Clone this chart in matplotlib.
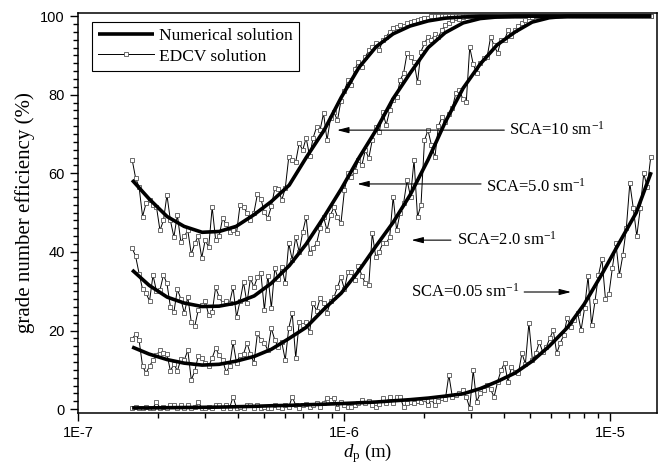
import numpy as np
import matplotlib
matplotlib.use('Agg')
matplotlib.rcParams['font.family'] = 'serif'
matplotlib.rcParams['font.serif'] = ['Liberation Serif', 'DejaVu Serif']
matplotlib.rcParams['font.sans-serif'] = ['Liberation Sans', 'DejaVu Sans']
matplotlib.rcParams['mathtext.fontset'] = 'custom'
matplotlib.rcParams['mathtext.rm'] = 'Liberation Serif'
matplotlib.rcParams['mathtext.it'] = 'Liberation Serif:italic'
import matplotlib.pyplot as plt
from matplotlib.ticker import FixedLocator, MultipleLocator, FuncFormatter, NullFormatter

# numerical (smooth) solutions, particle diameter in m
dp_num = [1.596e-7, 1.849e-7, 2.161e-7, 2.503e-7, 2.924e-7, 3.388e-7, 3.925e-7,
          4.589e-7, 5.318e-7, 6.216e-7, 7.198e-7, 8.413e-7, 9.746e-7, 1.138e-6,
          1.318e-6, 1.527e-6, 1.770e-6, 2.069e-6, 2.397e-6, 2.802e-6, 3.245e-6,
          3.759e-6, 4.394e-6, 5.091e-6, 5.898e-6, 6.894e-6, 7.986e-6, 9.334e-6,
          1.081e-5, 1.253e-5, 1.426e-5]
num_10 = [58.3, 53.5, 49.0, 46.5, 45.0, 45.2, 46.5, 49.5, 52.8, 57.0, 64.0, 71.0,
          79.3, 87.0, 92.2, 95.5, 97.5, 98.8, 99.5, 99.8, 100, 100, 100, 100, 100,
          100, 100, 100, 100, 100, 100]
num_5 = [35.4, 31.5, 28.5, 27.0, 26.1, 26.2, 27.0, 28.8, 32.0, 36.5, 42.0, 49.0,
         56.0, 64.0, 71.0, 79.0, 85.5, 92.0, 95.8, 98.3, 99.4, 99.8, 100, 100, 100,
         100, 100, 100, 100, 100, 100]
num_2 = [15.8, 14.0, 12.6, 11.7, 11.2, 11.4, 12.2, 13.4, 15.2, 18.0, 20.8, 25.5,
         29.5, 35.3, 41.5, 47.5, 54.5, 63.5, 73.0, 81.7, 87.8, 92.7, 96.0, 98.5,
         99.6, 100, 100, 100, 100, 100, 100]
num_005 = [0.3, 0.3, 0.35, 0.4, 0.45, 0.5, 0.6, 0.7, 0.85, 0.95, 1.1, 1.25, 1.4,
           1.6, 1.8, 2.1, 2.4, 2.8, 3.3, 3.9, 5.2, 7.0, 9.2, 12.2, 16.0, 20.7,
           26.7, 34.5, 42.3, 50.0, 60.3]

# EDCV solution, 150 sizes evenly spaced in log(dp)
dp_min, dp_max, n_edcv = 1.596e-7, 1.42e-5, 150
edcv_10 = [63.5, 58.8, 56.5, 49.0, 52.4, 53.2, 52.0, 51.4, 45.5, 48.0,
           54.5, 48.0, 43.8, 49.4, 42.5, 44.0, 45.5, 39.4, 42.2, 44.0,
           38.5, 43.0, 41.2, 51.4, 43.0, 44.0, 48.6, 47.0, 45.0, 45.5,
           44.8, 51.9, 51.5, 50.0, 48.1, 50.0, 54.7, 53.5, 50.1, 48.6,
           51.6, 56.2, 56.0, 53.2, 56.2, 64.1, 63.5, 62.9, 67.7, 65.9,
           69.0, 64.4, 69.0, 71.8, 71.0, 75.3, 68.4, 74.0, 75.5, 73.5,
           78.5, 81.0, 83.7, 82.5, 86.5, 88.3, 87.0, 89.6, 91.3, 92.1,
           93.1, 91.3, 93.9, 94.8, 96.0, 96.9, 97.2, 97.7, 97.5, 98.2,
           98.5, 98.8, 99.0, 99.2, 99.5, 99.6] + [100.0] * 64
edcv_5 = [41.0, 38.9, 34.5, 30.5, 29.5, 27.5, 34.1, 30.0, 30.3, 34.1,
          32.0, 26.0, 24.7, 30.5, 28.0, 24.4, 28.5, 22.1, 21.1, 25.2,
          26.5, 27.5, 23.9, 24.7, 31.0, 28.5, 27.0, 27.5, 27.0, 31.0,
          23.4, 27.5, 32.3, 27.0, 33.3, 31.0, 33.6, 34.6, 25.2, 34.0,
          25.7, 35.9, 33.0, 36.1, 32.0, 42.2, 38.0, 43.8, 40.0, 45.0,
          48.9, 39.7, 41.0, 42.2, 46.0, 48.9, 45.5, 49.4, 51.4, 48.9,
          47.3, 55.7, 60.0, 59.0, 60.5, 63.4, 62.0, 65.9, 63.9, 68.5,
          71.8, 70.5, 75.6, 72.3, 76.0, 78.6, 79.4, 83.7, 85.5, 90.6,
          89.5, 88.3, 83.2, 91.0, 93.1, 94.7, 93.9, 95.5, 94.7, 96.5,
          97.7, 98.3, 99.0, 99.5, 99.3, 99.8] + [100.0] * 54
edcv_2 = [17.8, 19.1, 17.5, 10.9, 9.2, 10.9, 12.5, 13.7, 15.0, 14.3,
          14.0, 9.7, 11.5, 9.7, 12.7, 12.5, 15.0, 7.4, 9.7, 13.5,
          13.0, 11.7, 10.9, 13.0, 15.5, 13.7, 12.5, 9.4, 10.9, 17.0,
          11.7, 13.7, 14.0, 16.8, 14.0, 11.7, 19.3, 17.5, 16.8, 15.0,
          20.6, 17.5, 15.8, 17.0, 12.5, 20.6, 24.4, 13.0, 22.1, 21.5,
          22.1, 19.5, 27.0, 25.0, 28.2, 27.0, 24.4, 27.5, 28.5, 31.0,
          33.6, 30.5, 34.9, 34.9, 32.8, 36.5, 34.0, 32.0, 31.6, 44.8,
          38.7, 40.0, 42.2, 42.2, 43.8, 54.0, 45.5, 50.0, 52.4, 58.3,
          54.0, 63.4, 48.9, 52.0, 68.4, 71.0, 67.2, 64.1, 72.0, 74.3,
          73.0, 75.0, 76.6, 80.4, 81.2, 79.0, 78.1, 92.1, 87.8, 85.5,
          88.0, 89.3, 89.6, 94.7, 92.6, 90.6, 93.9, 93.9, 96.4, 95.0,
          96.4, 97.5, 98.2, 99.0, 99.7, 99.8] + [100.0] * 34
edcv_005 = [0.3, 0.5, 0.3, 0.3, 0.5, 0.3, 0.3, 1.8, 0.3, 0.5,
            0.3, 1.0, 1.0, 0.3, 1.0, 0.3, 1.0, 0.3, 0.5, 1.8,
            0.3, 0.3, 0.5, 0.3, 1.0, 1.0, 0.3, 1.0, 0.3, 3.1,
            0.3, 0.5, 0.3, 1.0, 1.0, 0.3, 1.0, 0.3, 0.5, 0.3,
            0.3, 1.0, 0.5, 0.3, 1.0, 0.5, 3.1, 1.0, 0.3, 1.0,
            1.3, 0.5, 1.0, 1.5, 0.5, 1.5, 2.8, 2.3, 2.8, 0.3,
            1.8, 1.0, 0.5, 0.5, 1.0, 1.5, 2.3, 1.5, 2.0, 1.0,
            0.5, 1.3, 2.8, 1.5, 3.1, 1.5, 3.1, 3.1, 0.5, 1.5,
            1.8, 1.5, 2.0, 1.8, 2.5, 1.0, 2.5, 1.0, 2.0, 2.8,
            2.5, 8.7, 3.1, 3.5, 4.0, 4.8, 3.1, 0.3, 9.9, 1.8,
            4.0, 4.8, 6.1, 5.0, 3.1, 6.9, 9.9, 11.7, 6.9, 10.7,
            9.5, 9.2, 14.2, 11.5, 21.9, 12.5, 14.2, 17.0, 14.5, 15.8,
            18.0, 20.1, 14.2, 16.8, 18.8, 23.2, 20.9, 22.6, 24.5, 20.1,
            25.7, 33.8, 21.4, 27.5, 34.1, 38.2, 28.0, 29.3, 36.0, 42.2,
            34.1, 39.2, 46.1, 57.5, 51.1, 44.0, 51.1, 60.0, 56.5, 64.1]

dp_edcv = np.logspace(np.log10(dp_min), np.log10(dp_max), n_edcv)

F = plt.figure(figsize=(6.62, 4.66), dpi=100)
ax = F.add_axes([0.118, 0.1137, 0.8745, 0.8583])

edcv_kw = dict(color='k', lw=0.7, marker='s', ms=3.2, mfc='white',
               mec='#555555', mew=0.6)
for i, ys in enumerate([edcv_10, edcv_5, edcv_2, edcv_005]):
    ax.plot(dp_edcv, ys, label='EDCV solution' if i == 0 else None, **edcv_kw)
for i, ys in enumerate([num_10, num_5, num_2, num_005]):
    ax.plot(dp_num, ys, 'k', lw=2.6, solid_capstyle='butt',
            label='Numerical solution' if i == 0 else None)

ax.set_xscale('log')
ax.set_xlim(1e-7, 1.5e-5)
ax.set_ylim(-1, 100.8)
ax.xaxis.set_major_locator(FixedLocator([1e-7, 1e-6, 1e-5]))
ax.xaxis.set_major_formatter(FuncFormatter(lambda v, p: '1E%d' % round(np.log10(v))))
ax.xaxis.set_minor_formatter(NullFormatter())
ax.yaxis.set_major_locator(MultipleLocator(20))
ax.yaxis.set_minor_locator(MultipleLocator(2))
ax.tick_params(which='both', direction='out', top=False, right=False, width=1)
ax.tick_params(which='major', length=6, labelsize=10.5, labelfontfamily='sans-serif')
ax.tick_params(which='minor', length=3.5)
for s in ax.spines.values():
    s.set_linewidth(1.1)

ax.set_ylabel('grade number efficiency (%)', fontsize=15, labelpad=4)
ax.set_xlabel(r'$d_\mathrm{p}$ (m)', fontsize=13.5, labelpad=1)

h, l = ax.get_legend_handles_labels()
order = [l.index('Numerical solution'), l.index('EDCV solution')]
leg = ax.legend([h[k] for k in order], [l[k] for k in order], loc='upper left',
                bbox_to_anchor=(0.024, 0.978), borderaxespad=0, fontsize=12.5,
                fancybox=False, framealpha=1, edgecolor='k', handlelength=3.2,
                handletextpad=0.3, borderpad=0.35, labelspacing=0.25)
leg.get_frame().set_linewidth(0.8)

# labels with arrows: (text, text x, text y, tail x, tip x, arrow y, ha)
notes = [(r'SCA=10 sm$^{-1}$', 4.17e-6, 71.0, 4.0e-6, 9.4e-7, 71.0, 'left'),
         (r'SCA=5.0 sm$^{-1}$', 3.42e-6, 56.5, 3.27e-6, 1.12e-6, 57.3, 'left'),
         (r'SCA=2.0 sm$^{-1}$', 2.66e-6, 43.0, 2.52e-6, 1.79e-6, 43.0, 'left'),
         (r'SCA=0.05 sm$^{-1}$', 4.55e-6, 29.8, 4.75e-6, 7.13e-6, 29.8, 'right')]
for txt, tx, ty, x0, x1, ay, ha in notes:
    ax.annotate('', xy=(x1, ay), xytext=(x0, ay),
                arrowprops=dict(arrowstyle='-|>,head_length=0.7,head_width=0.18',
                                color='k', lw=0.8, shrinkA=0, shrinkB=0))
    ax.text(tx, ty, txt, fontsize=12, ha=ha, va='center')

F.savefig('out.png', dpi=100)
